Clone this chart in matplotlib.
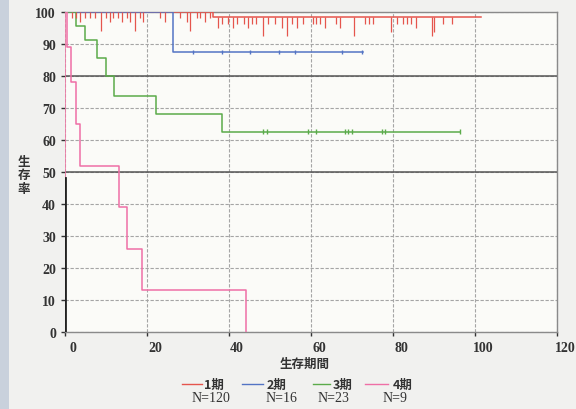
import numpy as np
import matplotlib
matplotlib.use("Agg")
import matplotlib.pyplot as plt
from matplotlib.lines import Line2D
from matplotlib.patches import Rectangle
import matplotlib.transforms as mtransforms

# survival curves (months, %)
stage1_t = [0, 36.2, 101.5]
stage1_s = [100, 98.3, 98.3]
stage2_t = [0, 26.3, 72.6]
stage2_s = [100, 87.5, 87.5]
stage3_t = [0, 2.7, 4.9, 7.7, 9.9, 12.0, 22.1, 38.2, 96.3]
stage3_s = [100, 95.7, 91.3, 85.6, 79.9, 73.9, 68.2, 62.6, 62.6]
stage4_t = [0, 0.6, 1.5, 2.8, 3.7, 13.1, 15.0, 18.9, 44.2]
stage4_s = [100, 89, 78, 65, 52, 39, 26, 13, 0]

# censored cases
stage1_cens = [1.7, 2.7, 3.7, 4.9, 6.1, 7.3, 8.8, 10.0, 11.0, 11.7, 12.9, 13.9, 15.1,
               15.9, 17.1, 18.3, 19.0, 23.2, 24.4, 28.0, 29.8, 30.5, 32.2, 32.9, 34.1,
               35.4, 37.3, 38.3, 39.8, 41.0, 42.0, 43.7, 44.6, 45.6, 46.6, 48.3, 49.5,
               51.2, 52.9, 54.1, 55.4, 56.6, 58.0, 60.5, 61.2, 62.2, 63.4, 66.1, 67.1,
               70.5, 73.2, 74.1, 75.1, 79.5, 81.0, 82.4, 83.4, 84.4, 85.6, 89.5, 90.0,
               92.2, 94.4]
stage1_cens_n = [1, 1, 2, 1, 1, 1, 4, 1, 2, 1, 1, 2, 1,
                 2, 4, 1, 2, 1, 2, 1, 2, 4, 1, 1, 2,
                 1, 2, 1, 1, 2, 1, 1, 2, 1, 1, 4, 1,
                 1, 2, 4, 1, 2, 1, 1, 1, 1, 2, 1, 2,
                 4, 1, 1, 1, 3, 1, 1, 1, 1, 2, 4, 3,
                 1, 1]
stage2_cens = [31.3, 38.2, 45.1, 52.3, 56.1, 67.5, 72.4]
stage3_cens = [48.4, 49.2, 59.3, 61.2, 68.3, 69.1, 69.9, 77.2, 78.0, 96.3]

labels = ["1期", "2期", "3期", "4期"]
counts = ["N=120", "N=16", "N=23", "N=9"]
colors = ["#e5554d", "#5374c4", "#5bab4a", "#ef6fa6"]

xticks = [0, 20, 40, 60, 80, 100, 120]
yticks = list(range(0, 101, 10))


def surv_at(t_list, s_list, t):
    i = np.searchsorted(t_list, t, side="right") - 1
    return s_list[i]


jp = ["Noto Sans CJK JP", "DejaVu Sans"]
serif = ["Liberation Serif", "DejaVu Serif"]

fig = plt.figure(figsize=(5.76, 4.10), dpi=100)
fig.patch.set_facecolor("#f1f1ef")
fig.patches.append(Rectangle((0, 0), 9 / 576, 1, transform=fig.transFigure,
                             facecolor="#c9d1dc", edgecolor="none"))
ax = fig.add_axes([65 / 576, 1 - 333 / 410, 492 / 576, 320 / 410])
ax.set_facecolor("#fbfbf8")

ax.set_xlim(0, 120)
ax.set_ylim(0, 100)
ax.set_xticks(xticks)
ax.set_yticks(yticks)
ax.grid(True, color="#a5a5a5", linestyle=(0, (3, 1.5)), linewidth=0.8)
ax.axhline(50, color="#555555", linewidth=1.1)
ax.axhline(80, color="#555555", linewidth=1.1)
ax.set_axisbelow(True)

for side in ["top", "right", "bottom"]:
    ax.spines[side].set_color("#8a8a8a")
    ax.spines[side].set_linewidth(1.0)
ax.spines["left"].set_visible(False)
ax.axvline(0, ymin=0.48, ymax=1, color="#ee7aa6", linewidth=1.2, zorder=5)
ax.axvline(0, ymin=0, ymax=0.48, color="#222222", linewidth=2.0, zorder=5)

series = [(stage1_t, stage1_s), (stage2_t, stage2_s), (stage3_t, stage3_s), (stage4_t, stage4_s)]
for (t, s), c in zip(series, colors):
    ax.step(t, s, where="post", color=c, linewidth=1.1, zorder=4)

# stage 1 censor ticks hang below the line
for t, n in zip(stage1_cens, stage1_cens_n):
    y = surv_at(stage1_t, stage1_s, t)
    ax.vlines(t, y - 0.6 - 1.3 * n, y, color=colors[0], linewidth=0.9, zorder=4)
for t in stage2_cens:
    y = surv_at(stage2_t, stage2_s, t)
    ax.vlines(t, y - 0.7, y + 0.7, color=colors[1], linewidth=1.0, zorder=4)
for t in stage3_cens:
    y = surv_at(stage3_t, stage3_s, t)
    ax.vlines(t, y - 0.7, y + 0.7, color=colors[2], linewidth=1.0, zorder=4)

ax.tick_params(axis="both", length=3, width=1, color="#333333",
               labelsize=10, labelcolor="#333333")
for lab in ax.get_xticklabels() + ax.get_yticklabels():
    lab.set_family(serif)
    lab.set_fontweight("bold")
offset = mtransforms.ScaledTranslation(0.08, 0, fig.dpi_scale_trans)
for lab in ax.get_xticklabels():
    lab.set_transform(lab.get_transform() + offset)

fig.text(24 / 576, 1 - 176 / 410, "生\n存\n率", family=jp, fontsize=9,
         fontweight="bold", ha="center", va="center", linespacing=1.05, color="#333333")
fig.text(305 / 576, 1 - 364 / 410, "生存期間", family=jp, fontsize=9,
         fontweight="bold", ha="center", va="center", color="#333333")

# legend
line_x = [(182, 202), (242, 263), (313, 330), (365, 388)]
lab_x = [204, 267, 333, 393]
n_x = [211, 281, 333, 395]
for i in range(4):
    x0, x1 = line_x[i]
    fig.add_artist(Line2D([x0 / 576, x1 / 576], [1 - 385 / 410] * 2,
                          color=colors[i], linewidth=1.0, transform=fig.transFigure))
    fig.text(lab_x[i] / 576, 1 - 385 / 410, labels[i], family=jp, fontsize=9,
             fontweight="bold", ha="left", va="center", color="#333333")
    fig.text(n_x[i] / 576, 1 - 399 / 410, counts[i], family=serif, fontsize=10,
             ha="center", va="center", color="#333333")

fig.savefig("out.png", dpi=100, facecolor=fig.get_facecolor())
